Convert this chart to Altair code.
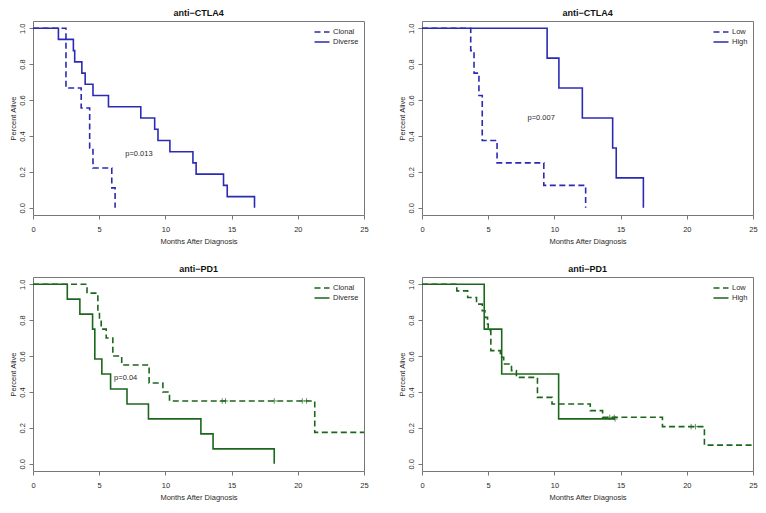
import altair as alt
import pandas as pd

FONT = "Liberation Sans"
BLUE = "#2a2ab4"
GREEN = "#1d661d"
FRAME = "#777777"
TEXT = "#2a2a2a"

X_TICKS = [0, 5, 10, 15, 20, 25]
Y_TICKS = [0.0, 0.2, 0.4, 0.6, 0.8, 1.0]

# ---- anti-CTLA4, clonality ----
ctla4_clonal_t = [2.49, 3.64, 4.28, 4.53, 5.95, 6.2]
ctla4_clonal_s = [0.667, 0.556, 0.333, 0.222, 0.111, 0.0]
ctla4_diverse_t = [1.92, 3.05, 3.15, 3.69, 3.94, 4.53, 5.7, 8.14, 9.19, 9.44,
                   10.34, 12.08, 12.32, 14.39, 14.67, 16.73]
ctla4_diverse_s = [0.9375, 0.875, 0.8125, 0.75, 0.6875, 0.625, 0.5625, 0.5,
                   0.4375, 0.375, 0.3125, 0.25, 0.1875, 0.125, 0.0625, 0.0]

# ---- anti-CTLA4, load ----
ctla4_low_t = [3.68, 3.93, 4.3, 4.55, 5.67, 9.2, 12.36]
ctla4_low_s = [0.875, 0.75, 0.625, 0.375, 0.25, 0.125, 0.0]
ctla4_high_t = [9.45, 10.34, 12.11, 14.4, 14.67, 16.72]
ctla4_high_s = [0.8333, 0.6667, 0.5, 0.3333, 0.1667, 0.0]

# ---- anti-PD1, clonality ----
pd1_clonal_t = [4.08, 4.9, 5.02, 5.15, 5.53, 6.03, 6.7, 8.77, 9.81, 10.31, 21.28]
pd1_clonal_s = [0.95, 0.85, 0.8, 0.75, 0.7, 0.6, 0.55, 0.45, 0.4, 0.35, 0.175]
pd1_clonal_end = 25.0
pd1_clonal_cens_t = [14.29, 14.54, 18.22, 20.34, 20.66]
pd1_clonal_cens_s = [0.35, 0.35, 0.35, 0.35, 0.35]
pd1_diverse_t = [2.59, 3.54, 4.5, 4.67, 5.2, 5.86, 7.1, 8.72, 12.68, 13.6, 18.22]
pd1_diverse_s = [0.9167, 0.8333, 0.75, 0.5833, 0.5, 0.4167, 0.3333, 0.25,
                 0.1667, 0.0833, 0.0]

# ---- anti-PD1, load ----
pd1_low_t = [2.63, 3.45, 4.12, 4.55, 4.75, 4.95, 5.0, 5.2, 5.92, 6.17, 6.76,
             7.13, 8.72, 9.82, 12.71, 13.64, 18.16, 21.33]
pd1_low_s = [0.963, 0.926, 0.889, 0.852, 0.815, 0.778, 0.741, 0.630, 0.593,
             0.556, 0.519, 0.481, 0.370, 0.333, 0.296, 0.259, 0.207, 0.104]
pd1_low_end = 25.0
pd1_low_cens_t = [14.18, 14.52, 20.33, 20.65]
pd1_low_cens_s = [0.259, 0.259, 0.207, 0.207]
pd1_high_t = [4.7, 6.02, 10.32]
pd1_high_s = [0.75, 0.5, 0.25]
pd1_high_end = 14.58
pd1_high_cens_t = [14.58]
pd1_high_cens_s = [0.25]

p_labels = ["p=0.013", "p=0.007", "p=0.04"]
p_x = [8.0, 9.0, 7.0]
p_y = [0.30, 0.50, 0.48]

PANEL_W = 331
PANEL_H = 194


def km_rows(group, times, surv, end=None):
    rows = [{"t": 0.0, "s": 1.0, "g": group, "o": 0}]
    for i, (t, s) in enumerate(zip(times, surv)):
        rows.append({"t": t, "s": s, "g": group, "o": i + 1})
    if end is not None and end > times[-1]:
        rows.append({"t": end, "s": surv[-1], "g": group, "o": len(times) + 1})
    return rows


XS = alt.Scale(domain=[0, 25], nice=False, zero=False)
YS = alt.Scale(domain=[-0.04, 1.04], nice=False, zero=False)
XAX = alt.Axis(values=X_TICKS, format="d", title="Months After Diagnosis",
               labelPadding=6, titlePadding=5, labelOverlap=False,
               labelFlush=False)
YAX = alt.Axis(values=Y_TICKS, format=".1f", title="Percent Alive",
               labelAngle=270, labelAlign="center", labelBaseline="bottom",
               labelPadding=3, titlePadding=1, labelOverlap=False,
               labelFlush=False, tickCount=6)


def panel(title, groups, curves, color, censors=None, ptext=None):
    rows = []
    for g, c in zip(groups, curves):
        rows += km_rows(g, *c)
    df = pd.DataFrame(rows)
    xenc = alt.X("t:Q", scale=XS, axis=XAX)
    yenc = alt.Y("s:Q", scale=YS, axis=YAX)
    line = alt.Chart(df).mark_line(
        interpolate="step-after", strokeWidth=1.6, color=color, clip=True
    ).encode(
        x=xenc,
        y=yenc,
        strokeDash=alt.StrokeDash(
            "g:N",
            scale=alt.Scale(domain=groups, range=[[6, 3.5], [1, 0]]),
            legend=alt.Legend(
                title=None, orient="top-right", offset=5, padding=0,
                symbolType="M-1.5,0L1.5,0", symbolSize=100,
                symbolStrokeWidth=1.6, symbolStrokeColor=color,
                labelFont=FONT, labelFontSize=7.5, labelColor=TEXT,
                rowPadding=0, labelOffset=5,
            ),
        ),
        order="o:Q",
    )
    layers = [line]
    if censors:
        cdf = pd.DataFrame({"t": censors[0], "s": censors[1]})
        layers.append(
            alt.Chart(cdf).mark_point(
                shape="M0,-1L0,1M-1,0L1,0", size=30, filled=False,
                strokeWidth=1, color=color
            ).encode(x=xenc, y=yenc)
        )
    if ptext:
        tdf = pd.DataFrame({"t": [ptext[1]], "s": [ptext[2]], "label": [ptext[0]]})
        layers.append(
            alt.Chart(tdf).mark_text(
                font=FONT, fontSize=7.5, color=TEXT
            ).encode(x=xenc, y=yenc, text="label:N")
        )
    return alt.layer(*layers).properties(
        width=PANEL_W, height=PANEL_H,
        title=alt.TitleParams(title, font=FONT, fontSize=9, fontWeight="bold",
                              color="#111111", offset=3, anchor="middle",
                              frame="group"),
    )


p1 = panel("anti\u2212CTLA4", ["Clonal", "Diverse"],
           [(ctla4_clonal_t, ctla4_clonal_s), (ctla4_diverse_t, ctla4_diverse_s)],
           BLUE, ptext=(p_labels[0], p_x[0], p_y[0]))
p2 = panel("anti\u2212CTLA4", ["Low", "High"],
           [(ctla4_low_t, ctla4_low_s), (ctla4_high_t, ctla4_high_s)],
           BLUE, ptext=(p_labels[1], p_x[1], p_y[1]))
p3 = panel("anti\u2212PD1", ["Clonal", "Diverse"],
           [(pd1_clonal_t, pd1_clonal_s, pd1_clonal_end),
            (pd1_diverse_t, pd1_diverse_s)],
           GREEN, censors=(pd1_clonal_cens_t, pd1_clonal_cens_s),
           ptext=(p_labels[2], p_x[2], p_y[2]))
p4 = panel("anti\u2212PD1", ["Low", "High"],
           [(pd1_low_t, pd1_low_s, pd1_low_end),
            (pd1_high_t, pd1_high_s, pd1_high_end)],
           GREEN, censors=(pd1_low_cens_t + pd1_high_cens_t,
                           pd1_low_cens_s + pd1_high_cens_s))


def indep(c):
    return c.resolve_scale(strokeDash="independent", x="independent",
                           y="independent").resolve_legend(
        strokeDash="independent")


row1 = indep(alt.hconcat(p1, p2, spacing=28))
row2 = indep(alt.hconcat(p3, p4, spacing=28))

chart = indep(alt.vconcat(row1, row2, spacing=18)).properties(
    padding=0
).configure_view(
    stroke=FRAME, strokeWidth=1
).configure_axis(
    domain=False, grid=False, ticks=True, tickColor=FRAME, tickSize=4,
    tickWidth=1, labelFont=FONT, labelFontSize=7.5, labelColor=TEXT,
    titleFont=FONT, titleFontSize=7.5, titleFontWeight="normal",
    titleColor=TEXT, labelOverlap=False,
)

chart.save("out.html", embed_options={"renderer": "svg", "actions": False})
